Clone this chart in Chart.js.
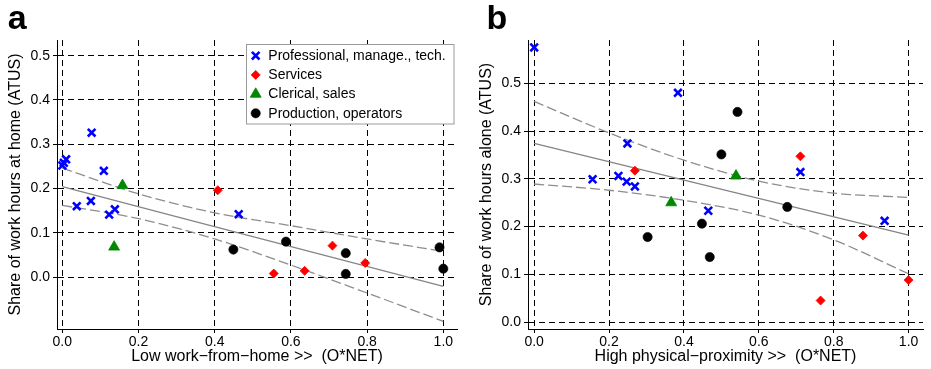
<!DOCTYPE html>
<html><head><meta charset="utf-8">
<script src="https://cdn.jsdelivr.net/npm/chart.js@4.4.1/dist/chart.umd.min.js"></script>
<style>
html,body{margin:0;padding:0;background:#fff;width:931px;height:369px;overflow:hidden}
canvas{position:absolute;top:0}
#ca{left:0}
#cb{left:471px}
</style></head><body>
<canvas id="ca" width="465" height="369"></canvas>
<canvas id="cb" width="460" height="369"></canvas>
<script>
// ---------- tick labels ----------
const xTicks = [0, 0.2, 0.4, 0.6, 0.8, 1.0];
const yTicks = [0, 0.1, 0.2, 0.3, 0.4, 0.5];

// ---------- categories ----------
const categories = ["Professional, manage., tech.", "Services", "Clerical, sales", "Production, operators"];

// ---------- panel a ----------
const aProfX = [0.000, 0.004, 0.010, 0.077, 0.109, 0.038, 0.075, 0.123, 0.138, 0.463];
const aProfY = [0.252, 0.258, 0.266, 0.326, 0.240, 0.160, 0.172, 0.141, 0.153, 0.142];
const aServX = [0.408, 0.555, 0.636, 0.709, 0.795];
const aServY = [0.196, 0.008, 0.014, 0.071, 0.032];
const aClerX = [0.158, 0.136];
const aClerY = [0.207, 0.068];
const aProdX = [0.449, 0.587, 0.744, 0.744, 0.990, 1.000];
const aProdY = [0.062, 0.080, 0.054, 0.007, 0.067, 0.019];
const aFitX = [0, 1];
const aFitY = [0.204, -0.021];
const aBandX = [0, 0.2, 0.4, 0.6, 0.8, 1.0];
const aUpperY = [0.246, 0.188, 0.145, 0.116, 0.086, 0.058];
const aLowerY = [0.162, 0.132, 0.086, 0.027, -0.036, -0.100];

// ---------- panel b ----------
const bProfX = [0.000, 0.384, 0.249, 0.156, 0.225, 0.247, 0.269, 0.465, 0.711, 0.936];
const bProfY = [0.575, 0.480, 0.374, 0.299, 0.306, 0.294, 0.284, 0.233, 0.314, 0.212];
const bServX = [0.269, 0.711, 0.878, 0.765, 1.000];
const bServY = [0.317, 0.347, 0.181, 0.045, 0.088];
const bClerX = [0.366, 0.539];
const bClerY = [0.250, 0.306];
const bProdX = [0.543, 0.500, 0.303, 0.448, 0.469, 0.676];
const bProdY = [0.440, 0.351, 0.178, 0.206, 0.136, 0.241];
const bFitX = [0, 1];
const bFitY = [0.374, 0.182];
const bBandX = [0, 0.2, 0.4, 0.6, 0.8, 1.0];
const bUpperY = [0.462, 0.396, 0.339, 0.295, 0.270, 0.261];
const bLowerY = [0.289, 0.276, 0.255, 0.224, 0.172, 0.101];

// ---------- styles ----------
Chart.defaults.font.family = '"Liberation Sans", Arial, Helvetica, sans-serif';
Chart.defaults.color = '#000';
const FONT = '"Liberation Sans", Arial, Helvetica, sans-serif';
const seriesStyles = [
  {pointStyle: 'crossRot', radius: 5.4, borderWidth: 2.6, fill: '#0000ff', stroke: '#0000ff'},
  {pointStyle: 'rectRot',  radius: 4.5, borderWidth: 0.8, fill: '#ff0000', stroke: '#ff0000'},
  {pointStyle: 'triangle', radius: 6.3, borderWidth: 0.8, fill: '#008800', stroke: '#008800'},
  {pointStyle: 'circle',   radius: 4.6, borderWidth: 0.6, fill: '#000000', stroke: '#000000'}
];

function pts(xs, ys) { return xs.map((x, i) => ({x: x, y: ys[i]})); }

function scatterSet(i, xs, ys) {
  const s = seriesStyles[i];
  return {
    label: categories[i], data: pts(xs, ys), showLine: false,
    pointStyle: s.pointStyle, pointRadius: s.radius, pointBorderWidth: s.borderWidth,
    pointBackgroundColor: s.fill, pointBorderColor: s.stroke, pointHoverRadius: s.radius
  };
}
function lineSet(xs, ys, dashed) {
  return {
    label: '', data: pts(xs, ys), showLine: true, pointRadius: 0, pointHoverRadius: 0,
    borderColor: dashed ? '#8e8e8e' : '#858585', borderWidth: 1.3,
    borderDash: dashed ? [10, 4] : [], cubicInterpolationMode: 'monotone', fill: false
  };
}

const panelLabel = {
  id: 'panelLabel',
  afterDraw(chart, args, opts) {
    const ctx = chart.ctx;
    ctx.save();
    ctx.font = 'bold 34px ' + FONT;
    ctx.fillStyle = '#000';
    ctx.textBaseline = 'alphabetic';
    ctx.textAlign = 'left';
    ctx.fillText(opts.text, opts.x, 29);
    ctx.restore();
  }
};

const boxLegend = {
  id: 'boxLegend',
  afterDraw(chart, args, opts) {
    if (!opts.show) return;
    const ctx = chart.ctx;
    ctx.save();
    ctx.fillStyle = '#fff';
    ctx.strokeStyle = '#9a9a9a';
    ctx.lineWidth = 1;
    ctx.fillRect(opts.left, opts.top, opts.width, opts.height);
    ctx.strokeRect(opts.left, opts.top, opts.width, opts.height);
    ctx.font = '14px ' + FONT;
    ctx.textBaseline = 'middle';
    ctx.textAlign = 'left';
    for (let i = 0; i < 4; i++) {
      const ds = chart.data.datasets[i];
      const y = opts.firstY + i * opts.rowH;
      ctx.fillStyle = ds.pointBackgroundColor;
      ctx.strokeStyle = ds.pointBorderColor;
      ctx.lineWidth = ds.pointBorderWidth;
      Chart.helpers.drawPoint(ctx, {pointStyle: ds.pointStyle, radius: ds.pointRadius, rotation: 0, borderWidth: ds.pointBorderWidth}, opts.markerX, y);
      ctx.fillStyle = '#000';
      ctx.fillText(ds.label, opts.textX, y + 0.5);
    }
    ctx.restore();
  }
};

function axisCfg(isX, min, max, ticks, title) {
  return {
    type: 'linear', min: min, max: max,
    afterBuildTicks: s => { s.ticks = ticks.map(v => ({value: v})); },
    afterFit: s => { if (isX) s.height = 40; else s.width = 57; },
    grid: {color: '#000', lineWidth: 1, tickLength: 4, tickColor: '#000', tickWidth: 1, drawTicks: true},
    border: {display: true, color: '#000', width: 1, dash: [6, 4]},
    ticks: {color: '#000', font: {size: 14}, padding: isX ? 1 : 3, maxRotation: 0, autoSkip: false,
            callback: v => Number(v).toFixed(1)},
    title: {display: true, text: title, color: '#000', font: {size: 16},
            padding: isX ? {top: 0, bottom: 3.2} : {top: 5.5, bottom: 0}}
  };
}

function makeChart(id, sets, xr, yr, xTitle, yTitle, padRight, label, labelX, legendOpts) {
  return new Chart(document.getElementById(id), {
    type: 'scatter',
    data: {datasets: sets},
    options: {
      responsive: false, animation: false, events: [],
      layout: {padding: {left: 0, right: padRight, top: 40, bottom: 0}},
      plugins: {
        legend: {display: false}, tooltip: {enabled: false},
        panelLabel: {text: label, x: labelX},
        boxLegend: legendOpts
      },
      scales: {
        x: axisCfg(true, xr[0], xr[1], xTicks, xTitle),
        y: axisCfg(false, yr[0], yr[1], yTicks, yTitle)
      }
    },
    plugins: [panelLabel, boxLegend]
  });
}

makeChart('ca', [
    scatterSet(0, aProfX, aProfY), scatterSet(1, aServX, aServY),
    scatterSet(2, aClerX, aClerY), scatterSet(3, aProdX, aProdY),
    lineSet(aFitX, aFitY, false), lineSet(aBandX, aUpperY, true), lineSet(aBandX, aLowerY, true)
  ], [-0.0139, 1.0359], [-0.1173, 0.5354],
  'Low work\u2212from\u2212home >>  (O*NET)', 'Share of work hours at home (ATUS)', 7, 'a', 7.7,
  {show: true, left: 246.5, top: 44.5, width: 207.5, height: 79.5, markerX: 255.7, textX: 268.3, firstY: 55.7, rowH: 19.2});

makeChart('cb', [
    scatterSet(0, bProfX, bProfY), scatterSet(1, bServX, bServY),
    scatterSet(2, bClerX, bClerY), scatterSet(3, bProdX, bProdY),
    lineSet(bFitX, bFitY, false), lineSet(bBandX, bUpperY, true), lineSet(bBandX, bLowerY, true)
  ], [-0.0165, 1.0385], [-0.0146, 0.5906],
  'High physical\u2212proximity >>  (O*NET)', 'Share of work hours alone (ATUS)', 0, 'b', 15.6,
  {show: false});
</script>
</body></html>
